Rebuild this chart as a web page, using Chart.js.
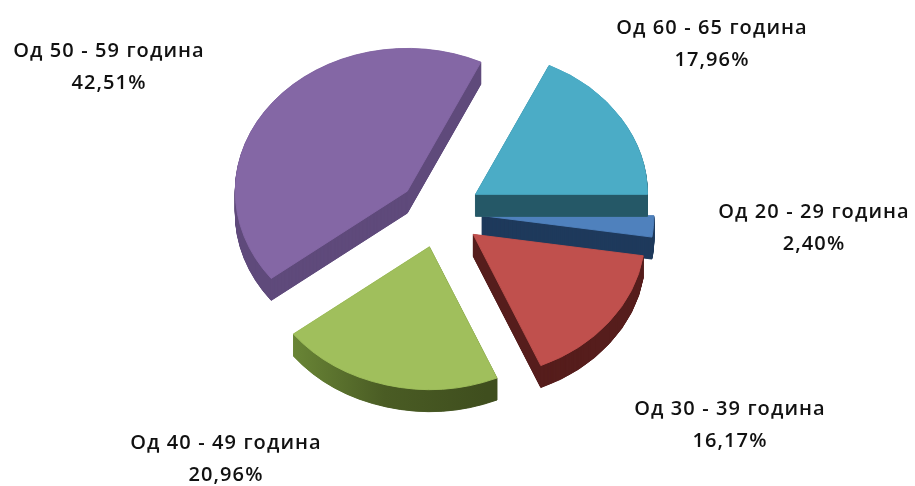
<!DOCTYPE html>
<html>
<head>
<meta charset="utf-8">
<style>
  html, body { margin: 0; padding: 0; background: #fff; }
  canvas { display: block; filter: blur(0.6px); }
</style>
<script src="https://cdn.jsdelivr.net/npm/chart.js@4/dist/chart.umd.min.js"></script>
</head>
<body>
<canvas id="age_groups" width="915" height="486"></canvas>
<script>
var categories = ['Од 20 - 29 година', 'Од 30 - 39 година', 'Од 40 - 49 година', 'Од 50 - 59 година', 'Од 60 - 65 година'];
var shares = [2.40, 16.17, 20.96, 42.51, 17.96];
var shareLabels = ['2,40%', '16,17%', '20,96%', '42,51%', '17,96%'];

var topColors = ['#4f81bd', '#c0504d', '#a0bf5c', '#8467a5', '#4bacc6'];
var wallColors = ['#1f3a5c', '#561e1d', '#45561f', '#5f4a7c', '#275a68'];
// centre of each label block, in page pixels
var labelCentres = [[814, 228], [730, 425], [226, 459], [109, 67], [712, 44]];

var TILT = 0.83;
var DEPTH = 22;
var EXPLODE = 42;
var RADIUS = 172;
var CENTRE_X = 440;
var CENTRE_Y = 213;

// moves the context so the arc sits exploded and flattened on the tilted plane
function placeArc(ctx, arc, drop) {
  var mid = (arc.startAngle + arc.endAngle) / 2;
  ctx.translate(0, drop);
  ctx.translate(arc.x, arc.y);
  ctx.scale(1, TILT);
  ctx.translate(Math.cos(mid) * EXPLODE, Math.sin(mid) * EXPLODE);
  ctx.translate(-arc.x, -arc.y);
}

// green wall fades from olive on the left into dark on the right
function wallFill(ctx, i) {
  if(i !== 2) {
    return wallColors[i];
  }
  var g = ctx.createLinearGradient(293, 0, 497, 0);
  g.addColorStop(0, '#6d8a38');
  g.addColorStop(0.5, '#4a5c24');
  g.addColorStop(1, '#3f4e1e');
  return g;
}

var tiltedPie = {
  id: 'tiltedPie',
  beforeDatasetDraw(chart) {
    var ctx = chart.ctx;
    var arcs = chart.getDatasetMeta(0).data;
    arcs.forEach((arc, i) => {
      var top = arc.options.backgroundColor;
      var wall = wallFill(ctx, i);
      arc.options.backgroundColor = wall;
      arc.options.borderColor = wall;
      arc.options.borderWidth = 1;
      // half pixel steps, otherwise the thin tip of the blue slice stays see-through
      for(var d = DEPTH; d > 0; d -= 0.5) {
        ctx.save();
        placeArc(ctx, arc, d);
        arc.draw(ctx);
        ctx.restore();
      }
      // same width border on the top face hides the wall's outline
      arc.options.backgroundColor = top;
      arc.options.borderColor = top;
      ctx.save();
      placeArc(ctx, arc, 0);
      arc.draw(ctx);
      ctx.restore();
    });
    return false;
  },
  afterDatasetsDraw(chart) {
    var ctx = chart.ctx;
    ctx.font = '600 20px "Open Sans"';
    ctx.letterSpacing = '1.1px';
    ctx.fillStyle = '#111';
    ctx.textAlign = 'center';
    ctx.textBaseline = 'middle';
    categories.forEach((name, i) => {
      var c = labelCentres[i];
      ctx.fillText(name, c[0], c[1] - 16);
      ctx.fillText(shareLabels[i], c[0], c[1] + 16);
    });
  }
};

new Chart(document.getElementById('age_groups').getContext('2d'), {
  type: 'pie',
  data: {
    labels: categories,
    datasets: [{
      data: shares,
      backgroundColor: topColors,
      borderWidth: 0,
      hoverOffset: 0
    }]
  },
  options: {
    responsive: false,
    animation: false,
    rotation: 90,
    layout: {
      padding: {
        left: CENTRE_X - RADIUS,
        right: 915 - CENTRE_X - RADIUS,
        top: CENTRE_Y - RADIUS,
        bottom: 486 - CENTRE_Y - RADIUS
      }
    },
    plugins: { legend: { display: false }, tooltip: { enabled: false } },
    events: []
  },
  plugins: [tiltedPie]
});
</script>
</body>
</html>
